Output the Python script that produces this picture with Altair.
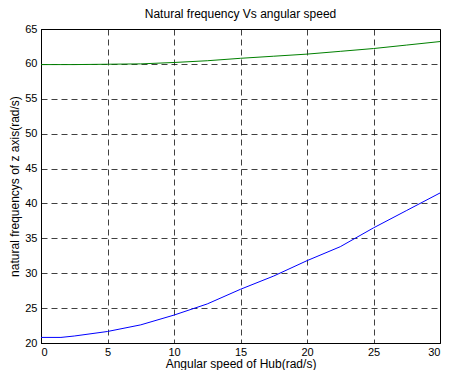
import altair as alt
import pandas as pd

speed = [0, 1.5, 2.5, 5, 7.5, 10, 12.5, 15, 17.5, 20, 22.5, 25, 27.5, 30]
freq_low = [20.8, 20.8, 21.0, 21.65, 22.6, 24.0, 25.6, 27.7, 29.6, 31.8, 33.8, 36.5, 39.0, 41.5]
freq_high = [59.9, 59.9, 59.9, 59.95, 60.0, 60.2, 60.45, 60.8, 61.1, 61.4, 61.8, 62.2, 62.7, 63.2]
series_names = ["mode 1", "mode 2"]
series_colors = ["#0000ff", "#008000"]
x_ticks = [0, 5, 10, 15, 20, 25, 30]
y_ticks = [20, 25, 30, 35, 40, 45, 50, 55, 60, 65]

rows = []
for s, v in zip(speed, freq_low):
    rows.append({"speed": s, "freq": v, "series": series_names[0]})
for s, v in zip(speed, freq_high):
    rows.append({"speed": s, "freq": v, "series": series_names[1]})
df = pd.DataFrame(rows)

FONT = "Liberation Sans"

chart = alt.Chart(df).mark_line(strokeWidth=1).encode(
    x=alt.X("speed:Q",
            scale=alt.Scale(domain=[0, 30], nice=False, zero=False),
            axis=alt.Axis(values=x_ticks, title="Angular speed of Hub(rad/s)",
                          format="d", labelPadding=3, titlePadding=1)),
    y=alt.Y("freq:Q",
            scale=alt.Scale(domain=[20, 65], nice=False, zero=False),
            axis=alt.Axis(values=y_ticks, title="natural frequencys of  z axis(rad/s)",
                          format="d", labelPadding=4, titlePadding=3)),
    color=alt.Color("series:N",
                    scale=alt.Scale(domain=series_names, range=series_colors),
                    legend=None),
    detail="series:N",
).properties(
    width=399,
    height=314,
    title=alt.TitleParams("Natural frequency Vs angular speed", fontSize=12,
                          fontWeight="normal", font=FONT, color="black", offset=2),
    autosize=alt.AutoSizeParams(type="none"),
    padding={"left": 33, "top": 21, "right": 1, "bottom": 27},
    background="white",
).configure_view(
    stroke="black", strokeWidth=1
).configure_axis(
    grid=True, gridColor="black", gridDash=[6, 4], gridOpacity=0.75, gridWidth=1,
    domain=True, domainColor="black", domainWidth=1,
    ticks=False, tickSize=0,
    labelFont=FONT, labelFontSize=11, labelColor="black",
    titleFont=FONT, titleFontSize=12, titleFontWeight="normal", titleColor="black",
)

chart.save("out.html", embed_options={"renderer": "svg", "actions": False})
